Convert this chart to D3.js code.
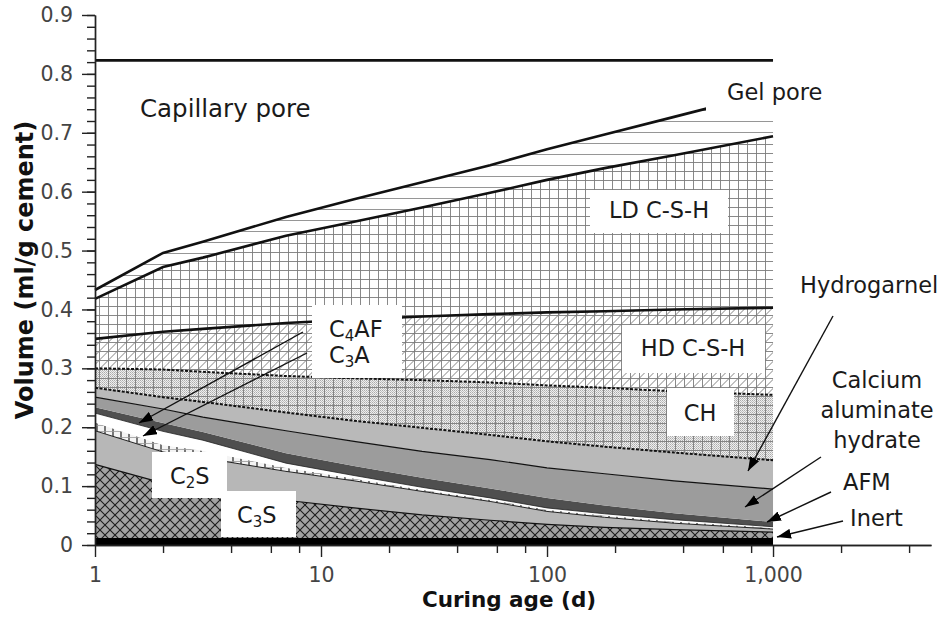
<!DOCTYPE html>
<html><head><meta charset="utf-8">
<script src="https://cdn.jsdelivr.net/npm/d3@7"></script>
<style>
body{margin:0;background:#fff}
svg{display:block;font-family:"DejaVu Sans",sans-serif}
</style>
</head><body>
<svg id="chart" width="943" height="619"></svg>
<script>
// ---------------- DATA (cumulative volume, ml/g cement) ----------------
const ages       = [1,     2,     3,     7,     14,    28,    56,    100,   180,   365,   1000];
const topInert   = [0.012, 0.012, 0.012, 0.012, 0.012, 0.012, 0.012, 0.012, 0.012, 0.012, 0.012];
const topC3S     = [0.137, 0.105, 0.094, 0.076, 0.063, 0.051, 0.042, 0.035, 0.030, 0.026, 0.022];
const topC2S     = [0.194, 0.158, 0.148, 0.125, 0.109, 0.091, 0.074, 0.057, 0.047, 0.037, 0.027];
const topC3A     = [0.208, 0.170, 0.160, 0.131, 0.113, 0.094, 0.077, 0.060, 0.050, 0.040, 0.029];
const topC4AF    = [0.224, 0.193, 0.178, 0.139, 0.118, 0.098, 0.080, 0.063, 0.053, 0.043, 0.031];
const topAFM     = [0.234, 0.207, 0.192, 0.156, 0.134, 0.114, 0.096, 0.080, 0.067, 0.054, 0.039];
const topCAH     = [0.251, 0.231, 0.217, 0.194, 0.176, 0.159, 0.145, 0.131, 0.121, 0.109, 0.095];
const topHG      = [0.267, 0.251, 0.243, 0.225, 0.211, 0.199, 0.187, 0.176, 0.167, 0.157, 0.144];
const topCH      = [0.300, 0.298, 0.294, 0.287, 0.283, 0.280, 0.276, 0.271, 0.267, 0.261, 0.255];
const topHD      = [0.350, 0.362, 0.367, 0.377, 0.383, 0.388, 0.392, 0.395, 0.397, 0.400, 0.403];
const topLD      = [0.418, 0.472, 0.488, 0.525, 0.549, 0.573, 0.598, 0.620, 0.640, 0.662, 0.694];
const topGel     = [0.433, 0.496, 0.515, 0.557, 0.587, 0.616, 0.645, 0.672, 0.697, 0.727, 0.770];
const topCap     = [0.823, 0.823, 0.823, 0.823, 0.823, 0.823, 0.823, 0.823, 0.823, 0.823, 0.823];

const xMajorTicks = [1, 10, 100, 1000];
const xMinorTicks = [2,4,6,8,20,40,60,80,200,400,600,800,2000,4000];
const yMajorTicks = [0,0.1,0.2,0.3,0.4,0.5,0.6,0.7,0.8,0.9];
const yMinorTicks = d3.range(0, 46).map(i => i*0.02);

// ---------------- SCALES ----------------
const svg = d3.select("#chart");
const x = d3.scaleLog().domain([1, 5000]).range([95, 931]);
const y = d3.scaleLinear().domain([0, 0.9]).range([545, 15]);

// ---------------- PATTERNS ----------------
const defs = svg.append("defs");
function pat(id, w, h, build){
  const p = defs.append("pattern").attr("id", id).attr("patternUnits","userSpaceOnUse")
    .attr("width", w).attr("height", h);
  build(p);
}
pat("grid", 9, 9, p => {
  p.append("path").attr("d","M0,0.5H9M0.5,0V9").attr("stroke","#7c7c7c").attr("stroke-width",0.9).attr("fill","none");
});
pat("diag", 9, 9, p => {
  p.append("path").attr("d","M0,9.5L9.5,0M-1,1L1,-1").attr("stroke","#767676").attr("stroke-width",0.9).attr("fill","none");
});
pat("hlines", 11, 11, p => {
  p.append("path").attr("d","M0,0.5H11").attr("stroke","#8a8a8a").attr("stroke-width",0.9);
});
pat("dots", 2, 2, p => {
  p.append("rect").attr("width",2).attr("height",2).attr("fill","#efefef");
  p.append("rect").attr("width",1).attr("height",1).attr("fill","#acacac");
  p.append("rect").attr("x",1).attr("y",1).attr("width",1).attr("height",1).attr("fill","#c2c2c2");
});
pat("diamond", 10, 10, p => {
  p.append("rect").attr("width",10).attr("height",10).attr("fill","#a2a2a2");
  p.append("path").attr("d","M0,0L10,10M10,0L0,10").attr("stroke","#1c1c1c").attr("stroke-width",1.1).attr("fill","none");
});
pat("brick", 8, 6, p => {
  p.append("rect").attr("width",8).attr("height",6).attr("fill","#f4f4f4");
  p.append("path").attr("d","M1,0V6").attr("stroke","#333").attr("stroke-width",1.3);
  p.append("path").attr("d","M0,5.5H8").attr("stroke","#999").attr("stroke-width",0.8);
});

// ---------------- LAYERS ----------------
const zero = ages.map(() => 0);
const layers = [
  {lo: zero,     hi: topInert, fills: ["#000"]},
  {lo: topInert, hi: topC3S,   fills: ["url(#diamond)"]},
  {lo: topC3S,   hi: topC2S,   fills: ["#b7b7b7"]},
  {lo: topC2S,   hi: topC3A,   fills: ["url(#brick)"]},
  {lo: topC3A,   hi: topC4AF,  fills: ["#ffffff"]},
  {lo: topC4AF,  hi: topAFM,   fills: ["#4f4f4f"]},
  {lo: topAFM,   hi: topCAH,   fills: ["#9c9c9c"]},
  {lo: topCAH,   hi: topHG,    fills: ["#b9b9b9"]},
  {lo: topHG,    hi: topCH,    fills: ["url(#dots)", "url(#grid)"]},
  {lo: topCH,    hi: topHD,    fills: ["#fff", "url(#grid)", "url(#diag)"]},
  {lo: topHD,    hi: topLD,    fills: ["#fff", "url(#grid)"]},
  {lo: topLD,    hi: topGel,   fills: ["#fff", "url(#hlines)"]}
];
const area = d3.area()
  .x(d => x(d.a)).y0(d => y(d.lo)).y1(d => y(d.hi));
const gLayers = svg.append("g");
layers.forEach(L => {
  const pts = ages.map((a, i) => ({a, lo: L.lo[i], hi: L.hi[i]}));
  L.fills.forEach(f => {
    gLayers.append("path").attr("d", area(pts)).attr("fill", f).attr("stroke","none");
  });
});

// ---------------- BOUNDARY LINES ----------------
const line = d3.line().x(d => x(d.a)).y(d => y(d.v));
const boundaries = [
  {v: topC3S,  w: 1.2, c: "#111"},
  {v: topC2S,  w: 1.0, c: "#222"},
  {v: topC4AF, w: 0.8, c: "#222"},
  {v: topCAH,  w: 1.2, c: "#111"},
  {v: topHG,   w: 2.0, c: "#111", dash: "3,1.5"},
  {v: topCH,   w: 2.0, c: "#111", dash: "3,1.5"},
  {v: topHD,   w: 2.6, c: "#111"},
  {v: topLD,   w: 2.6, c: "#111"},
  {v: topGel,  w: 2.6, c: "#111"},
  {v: topCap,  w: 2.6, c: "#111"}
];
boundaries.forEach(b => {
  svg.append("path").attr("d", line(ages.map((a,i)=>({a, v: b.v[i]}))))
    .attr("fill","none").attr("stroke", b.c).attr("stroke-width", b.w)
    .attr("stroke-dasharray", b.dash || null);
});

// ---------------- AXES ----------------
const axisColor = "#222";
function styleAxis(g){
  g.selectAll("path,line").attr("stroke", axisColor).attr("stroke-width", 1.4);
  g.selectAll("text").attr("fill","#444").attr("font-size", 20.5).attr("font-family","DejaVu Sans, sans-serif");
}
svg.append("g").attr("transform","translate(95,0)")
  .call(d3.axisLeft(y).tickValues(yMinorTicks).tickSize(8).tickSizeOuter(0).tickFormat(""))
  .call(styleAxis);
svg.append("g").attr("transform","translate(95,0)")
  .call(d3.axisLeft(y).tickValues(yMajorTicks).tickSize(13).tickSizeOuter(0).tickPadding(9)
    .tickFormat(d => d === 0 ? "0" : d3.format(".1f")(d)))
  .call(styleAxis);
svg.append("g").attr("transform","translate(0,545)")
  .call(d3.axisBottom(x).tickValues(xMinorTicks).tickSize(8).tickSizeOuter(0).tickFormat(""))
  .call(styleAxis);
svg.append("g").attr("transform","translate(0,545)")
  .call(d3.axisBottom(x).tickValues(xMajorTicks).tickSize(12).tickSizeOuter(0).tickPadding(10)
    .tickFormat(d3.format(",")))
  .call(styleAxis);

svg.append("text").attr("x", 509).attr("y", 607).attr("text-anchor","middle")
  .attr("font-weight","bold").attr("font-size", 21.5).attr("fill","#111").text("Curing age (d)");
svg.append("text").attr("transform","translate(33,270) rotate(-90)").attr("text-anchor","middle")
  .attr("font-weight","bold").attr("font-size", 24).attr("fill","#111").text("Volume (ml/g cement)");

// ---------------- LABEL BOXES ----------------
const boxes = [
  [706, 70, 144, 44],   // Gel pore
  [590, 190, 138, 43],  // LD C-S-H
  [622, 325, 143, 48],  // HD C-S-H
  [667, 388, 67, 48],   // CH
  [312, 305, 90, 73],   // C4AF / C3A
  [152, 452, 75, 46],   // C2S
  [221, 491, 75, 46]    // C3S
];
boxes.forEach(b => svg.append("rect").attr("x",b[0]).attr("y",b[1]).attr("width",b[2]).attr("height",b[3]).attr("fill","#fff"));

// ---------------- ARROWS ----------------
defs.append("marker").attr("id","arrow").attr("viewBox","0 0 14 10").attr("refX",14).attr("refY",5)
  .attr("markerWidth",14).attr("markerHeight",10).attr("markerUnits","userSpaceOnUse").attr("orient","auto")
  .append("path").attr("d","M0,0L14,5L0,10Z").attr("fill","#000");
const arrows = [
  [303, 332, 139, 423],  // C4AF
  [307, 353, 143, 436],  // C3A
  [833, 316, 748, 471],  // Hydrogarnel
  [821, 457, 745, 507],  // CAH
  [831, 492, 767, 522],  // AFM
  [843, 521, 777, 537]   // Inert
];
arrows.forEach(a => svg.append("line").attr("x1",a[0]).attr("y1",a[1]).attr("x2",a[2]).attr("y2",a[3])
  .attr("stroke","#111").attr("stroke-width",1.4).attr("marker-end","url(#arrow)"));

// ---------------- TEXT LABELS ----------------
const txt = (x0, y0, s, size, anchor) => svg.append("text").attr("x",x0).attr("y",y0)
  .attr("font-size", size).attr("fill","#1a1a1a").attr("text-anchor", anchor || "start").text(s);
txt(140, 117, "Capillary pore", 24.5);
txt(727, 100, "Gel pore", 22.5);
txt(659, 218, "LD C-S-H", 22.5, "middle");
txt(693, 356, "HD C-S-H", 22.5, "middle");
txt(700, 421, "CH", 22.5, "middle");
txt(800, 293, "Hydrogarnel", 22.5);
txt(877, 388, "Calcium", 22.5, "middle");
txt(877, 418, "aluminate", 22.5, "middle");
txt(877, 448, "hydrate", 22.5, "middle");
txt(843, 490, "AFM", 22.5);
txt(850, 526, "Inert", 22.5);

function chem(x0, y0, a, sub, b){
  const t = svg.append("text").attr("x",x0).attr("y",y0).attr("font-size",22.5).attr("fill","#1a1a1a");
  t.append("tspan").text(a);
  t.append("tspan").attr("font-size",15).attr("dy",4).text(sub);
  t.append("tspan").attr("dy",-4).text(b);
}
chem(329, 337, "C", "4", "AF");
chem(329, 363, "C", "3", "A");
chem(170, 484, "C", "2", "S");
chem(237, 523, "C", "3", "S");
</script>
</body></html>
